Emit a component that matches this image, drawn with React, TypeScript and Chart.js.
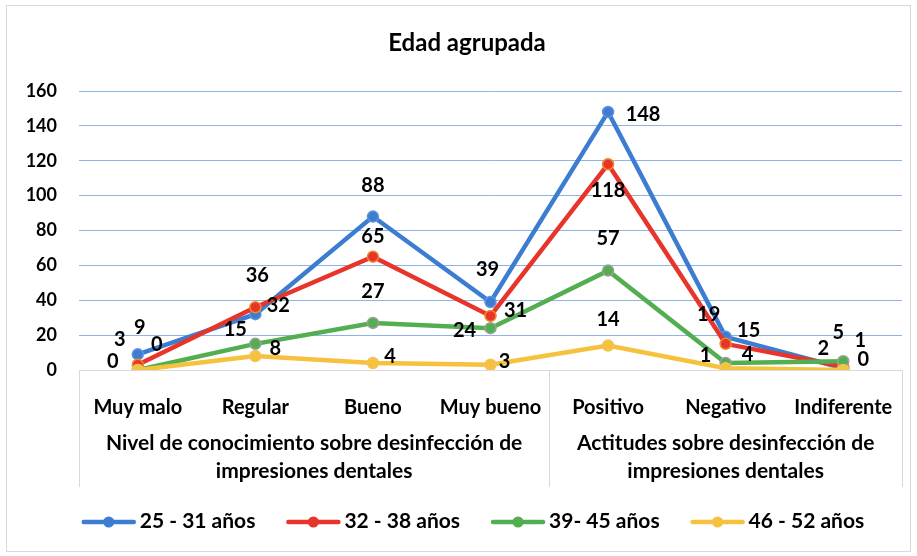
import React, { useEffect, useRef } from "react";
import { Chart, registerables } from "chart.js";

Chart.register(...registerables);

// ---- Data ----
const categories = ["Muy malo", "Regular", "Bueno", "Muy bueno", "Positivo", "Negativo", "Indiferente"];
const groupLines = [
  ["Nivel de conocimiento sobre desinfección de", "impresiones dentales"],
  ["Actitudes sobre desinfección de", "impresiones dentales"],
];
const groupSizes = [4, 3];
const seriesNames = ["25 - 31 años", "32 - 38 años", "39- 45 años", "46 - 52 años"];
const s25_31 = [9, 32, 88, 39, 148, 19, 1];
const s32_38 = [3, 36, 65, 31, 118, 15, 2];
const s39_45 = [0, 15, 27, 24, 57, 4, 5];
const s46_52 = [0, 8, 4, 3, 14, 1, 0];
const yMin = 0;
const yMax = 160;
const yStep = 20;
const chartTitle = "Edad agrupada";

// ---- Styles ----
const FONT = "Lato, 'Open Sans', sans-serif";
const colors = ["#3C7DD1", "#E8352B", "#52AE50", "#F6C13D"];
const pointBorders = ["#5E95DA", "#F08A24", "#9E9E9E", "#F2C45A"];
// label offsets (dx, dy) relative to each point, per series
const labelOffsets = [
  [[2, -27], [23, -9], [0, -31], [-3, -32], [35, 3], [-17, -22], [17, -28]],
  [[-18, -25], [2, -32], [0, -20], [25, -5], [0, 26], [23, -13], [-20, -18]],
  [[19, -25], [-20, -14], [0, -31], [-26, 2], [0, -32], [22, -8], [-5, -29]],
  [[-25, -8], [20, -8], [17, -6], [14, -3], [0, -26], [-20, -13], [20, -10]],
];

export default function App() {
  const ref = useRef<HTMLCanvasElement>(null);

  useEffect(() => {
    const canvas = ref.current;
    if (!canvas) return;
    const allSeries = [s25_31, s32_38, s39_45, s46_52];

    const decor = {
      id: "decor",
      afterDatasetsDraw(chart: any) {
        const ctx = chart.ctx;
        ctx.save();
        ctx.font = `bold 20px ${FONT}`;
        ctx.fillStyle = "#000";
        ctx.textAlign = "center";
        ctx.textBaseline = "middle";
        chart.data.datasets.forEach((ds: any, di: number) => {
          const meta = chart.getDatasetMeta(di);
          meta.data.forEach((pt: any, i: number) => {
            const [dx, dy] = labelOffsets[di][i];
            ctx.fillText(String(ds.data[i]), pt.x + dx, pt.y + dy);
          });
        });
        ctx.restore();
      },
      afterDraw(chart: any) {
        const { ctx, chartArea } = chart;
        const xs = chart.scales.x;
        ctx.save();
        // outer border
        ctx.strokeStyle = "#D9D9D9";
        ctx.lineWidth = 1;
        ctx.strokeRect(6.5, 5.5, 904, 546);

        // title
        ctx.fillStyle = "#000";
        ctx.font = `bold 24px ${FONT}`;
        ctx.textAlign = "center";
        ctx.textBaseline = "middle";
        ctx.fillText(chartTitle, 467, 43);

        // group separators and labels
        const bounds: number[] = [chartArea.left];
        let idx = 0;
        groupSizes.forEach((n, gi) => {
          idx += n;
          if (gi < groupSizes.length - 1) {
            bounds.push((xs.getPixelForValue(idx - 1) + xs.getPixelForValue(idx)) / 2);
          }
        });
        bounds.push(chartArea.right);
        ctx.strokeStyle = "#D9D9D9";
        ctx.lineWidth = 1;
        bounds.forEach((bx) => {
          const px = Math.round(bx) + 0.5;
          ctx.beginPath();
          ctx.moveTo(px, chartArea.bottom);
          ctx.lineTo(px, 487);
          ctx.stroke();
        });
        ctx.font = `bold 21px ${FONT}`;
        ctx.fillStyle = "#000";
        groupLines.forEach((lines, gi) => {
          const cx = (bounds[gi] + bounds[gi + 1]) / 2;
          lines.forEach((t, li) => {
            ctx.fillText(t, cx, 443 + li * 28);
          });
        });

        // legend
        ctx.font = `bold 21px ${FONT}`;
        const lineLen = 50;
        const textGap = 6;
        const itemGap = 33;
        const widths = seriesNames.map((n) => lineLen + textGap + ctx.measureText(n).width);
        const total = widths.reduce((a, b) => a + b, 0) + itemGap * (seriesNames.length - 1);
        let x = 474 - total / 2;
        const ly = 522;
        seriesNames.forEach((n, i) => {
          ctx.strokeStyle = colors[i];
          ctx.lineWidth = 4.5;
          ctx.lineCap = "round";
          ctx.beginPath();
          ctx.moveTo(x, ly);
          ctx.lineTo(x + lineLen, ly);
          ctx.stroke();
          ctx.fillStyle = colors[i];
          ctx.beginPath();
          ctx.arc(x + lineLen / 2, ly, 5.5, 0, Math.PI * 2);
          ctx.fill();
          ctx.fillStyle = "#000";
          ctx.textAlign = "left";
          ctx.fillText(n, x + lineLen + textGap, ly - 1);
          x += widths[i] + itemGap;
        });
        ctx.restore();
      },
    };

    const chart = new Chart(canvas, {
      type: "line",
      data: {
        labels: categories,
        datasets: seriesNames.map((name, i) => ({
          label: name,
          data: allSeries[i],
          borderColor: colors[i],
          backgroundColor: colors[i],
          borderWidth: 4.5,
          pointRadius: 5.5,
          pointBorderWidth: 1.5,
          pointBorderColor: pointBorders[i],
          pointBackgroundColor: colors[i],
          tension: 0,
          fill: false,
          order: seriesNames.length - i,
        })),
      },
      options: {
        responsive: false,
        animation: false,
        devicePixelRatio: 1,
        layout: { padding: { left: 6, right: 15, top: 91, bottom: 0 } },
        plugins: {
          legend: { display: false },
          title: { display: false },
          tooltip: { enabled: false },
        },
        scales: {
          x: {
            type: "category",
            offset: true,
            grid: { display: false },
            border: { display: false },
            ticks: {
              color: "#000",
              font: { family: FONT, size: 20, weight: "bold" },
              padding: 18,
              maxRotation: 0,
              autoSkip: false,
            },
            afterFit: (s: any) => {
              s.height = 186;
            },
          },
          y: {
            min: yMin,
            max: yMax,
            ticks: {
              stepSize: yStep,
              color: "#000",
              font: { family: FONT, size: 18, weight: "bold" },
              padding: 22,
            },
            grid: {
              color: (c: any) => (c.tick && c.tick.value === 0 ? "#D9D9D9" : "#8DB4E2"),
              drawTicks: false,
              lineWidth: 1,
            },
            border: { display: false },
            afterFit: (s: any) => {
              s.width = 73;
            },
          },
        },
      },
      plugins: [decor],
    } as any);

    return () => chart.destroy();
  }, []);

  return (
    <div style={{ position: "fixed", left: 0, top: 0, width: 917, height: 556, background: "#fff" }}>
      <canvas ref={ref} width={917} height={556} style={{ display: "block", width: 917, height: 556 }} />
    </div>
  );
}
